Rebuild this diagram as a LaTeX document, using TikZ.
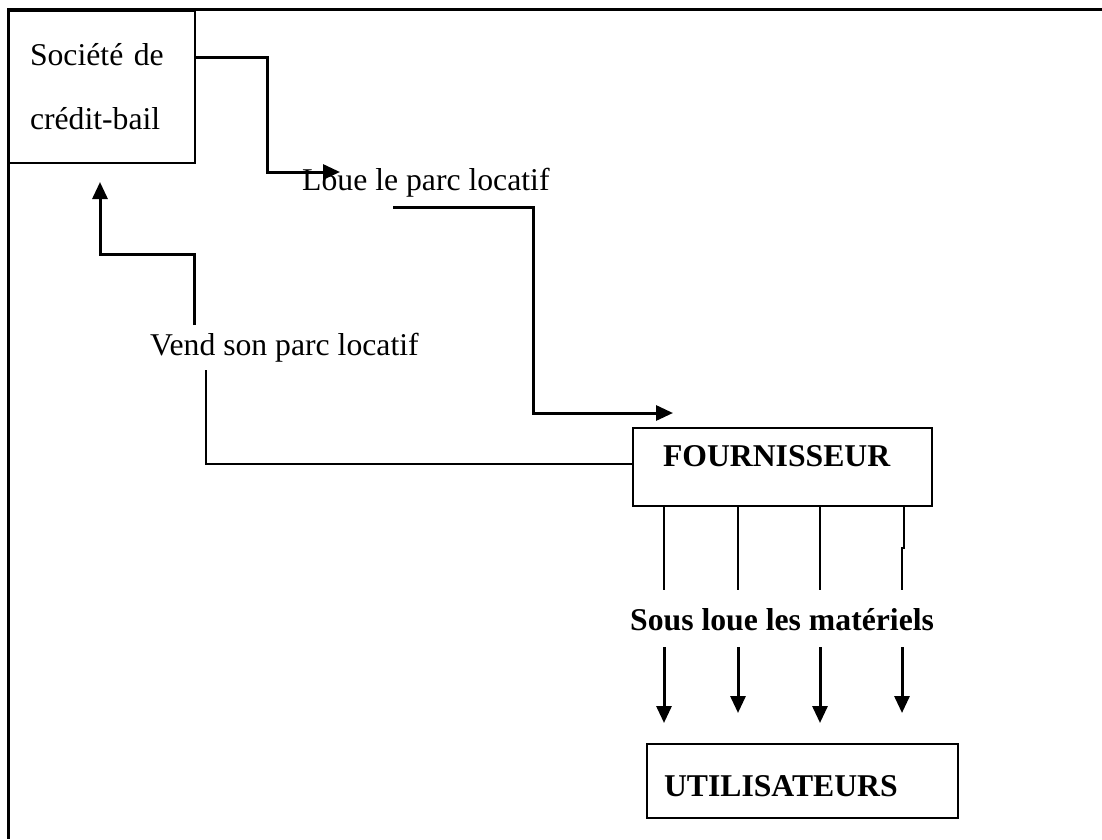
\documentclass[tikz,border=0pt]{standalone}
\usepackage{fontspec}
\setmainfont{Liberation Serif}
\usetikzlibrary{arrows.meta,positioning}

\begin{document}
\begin{tikzpicture}[
  x=1pt,y=-1pt,
  font=\fontsize{31.7}{64}\selectfont,
  >={Triangle[length=17pt,width=15pt]},
  box/.style={draw,line width=2pt,inner sep=0pt,align=left},
  lbl/.style={inner sep=0pt,anchor=base west},
  arr/.style={->,line width=3pt},
  thin/.style={line width=2pt},
]
\useasboundingbox (0,0) rectangle (1102,839);

% ============ frame + boxes ============
\draw[line width=2.5pt] (1102,9.5) -- (8.5,9.5) -- (8.5,839);
\node[box,anchor=north west,minimum width=186pt,minimum height=152pt,text width=144pt] (soc) at (8,10)
  {Société de\\crédit-bail};
\node[box,anchor=north west,minimum width=299pt,minimum height=78pt,text width=239pt,
  text height=21pt,text depth=23pt,font=\fontsize{31.7}{64}\selectfont\bfseries] (four) at (632,427)
  {FOURNISSEUR};
\node[box,anchor=north west,minimum width=311pt,minimum height=74pt,text width=277pt,
  text height=30pt,text depth=0pt,font=\fontsize{31.7}{64}\selectfont\bfseries] (util) at (646,743)
  {UTILISATEURS};

% ============ labels ============
\node[lbl] (loue) at (302,190) {Loue le parc locatif};
\node[lbl] (vend) at (150,355) {Vend son parc locatif};
\node[lbl,font=\fontsize{31.7}{64}\selectfont\bfseries] (sous) at (630,630) {Sous loue les matériels};

% ============ free ends ============
\coordinate (loue in) at (340,172);
\coordinate (loue out) at (393,207);
\coordinate (four in) at (673,413);
\coordinate (vend low) at (206,370);
\coordinate (vend up) at (194,325);
\coordinate (soc in) at (100,182);

% ============ connectors ============
\draw[arr] (soc.east |- 0,57) -- (267,57) |- (loue in);
\draw[arr] (loue out) -- (533,207) |- (four in);
\draw[thin] (four.west |- 0,464) -| (vend low);
\draw[arr] (vend up) -- (194,254) -| (soc in);

\foreach \x in {664,738,820}
  \draw[thin] (four.south -| \x,0) -- (\x,590);
\draw[thin] (four.south -| 904,0) -- (904,548) -- (902,548) -- (902,590);
\foreach \x/\t in {664/723,738/713,820/723,902/713}
  \draw[arr] (\x,647) -- (\x,\t);

\end{tikzpicture}
\end{document}
